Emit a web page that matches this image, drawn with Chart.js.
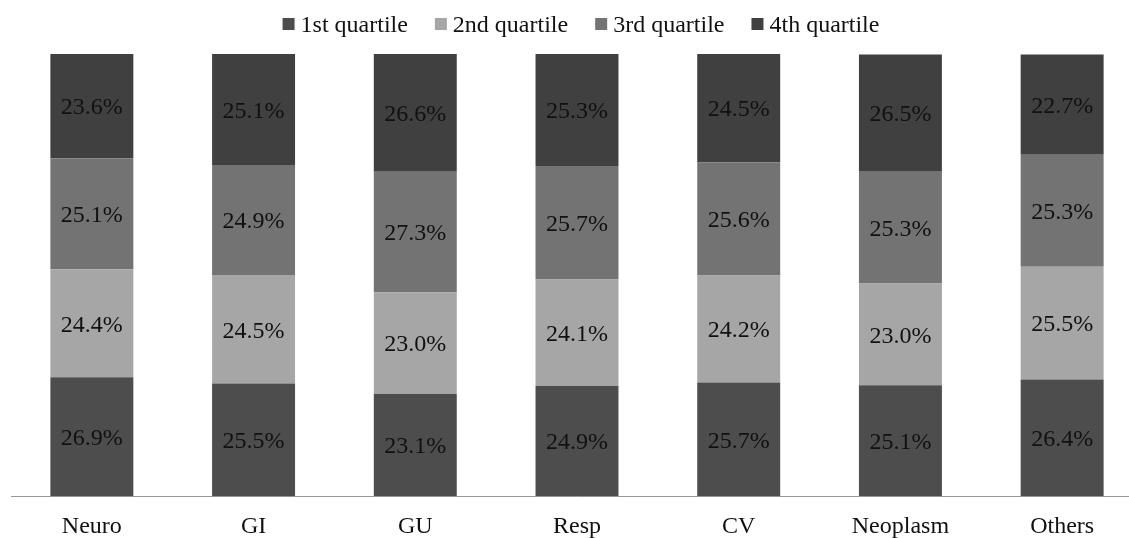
<!DOCTYPE html>
<html>
<head>
<meta charset="utf-8">
<script src="https://cdn.jsdelivr.net/npm/chart.js@4"></script>
<style>
html,body{margin:0;padding:0;background:#fff;overflow:hidden;}
#wrap{width:1145px;height:557px;}
</style>
</head>
<body>
<div id="wrap"><canvas id="c"></canvas></div>
<script>
const categories = ["Neuro","GI","GU","Resp","CV","Neoplasm","Others"];
const seriesNames = ["1st quartile","2nd quartile","3rd quartile","4th quartile"];
const q1 = [26.9,25.5,23.1,24.9,25.7,25.1,26.4];
const q2 = [24.4,24.5,23.0,24.1,24.2,23.0,25.5];
const q3 = [25.1,24.9,27.3,25.7,25.6,25.3,25.3];
const q4 = [23.6,25.1,26.6,25.3,24.5,26.5,22.7];
const colors = ["#4d4d4d","#a6a6a6","#737373","#404040"];

const FONT = '"Liberation Serif", "Times New Roman", serif';

const valueLabels = {
  id: 'valueLabels',
  afterDatasetsDraw(chart) {
    const ctx = chart.ctx;
    ctx.save();
    ctx.font = '24px ' + FONT;
    ctx.fillStyle = '#111';
    ctx.textAlign = 'center';
    ctx.textBaseline = 'middle';
    chart.data.datasets.forEach((ds, i) => {
      const meta = chart.getDatasetMeta(i);
      meta.data.forEach((bar, j) => {
        const y = (bar.y + bar.base) / 2;
        ctx.fillText(ds.data[j].toFixed(1) + '%', bar.x, y + 2);
      });
    });
    ctx.restore();
  }
};

const customLegend = {
  id: 'customLegend',
  afterDraw(chart) {
    const ctx = chart.ctx;
    ctx.save();
    ctx.font = '24px ' + FONT;
    const box = 12, gap = 6, itemGap = 27;
    const items = chart.data.datasets.map(ds => ({ text: ds.label, color: ds.backgroundColor, w: ctx.measureText(ds.label).width }));
    const total = items.reduce((s, it) => s + box + gap + it.w, 0) + itemGap * (items.length - 1);
    let x = 581 - total / 2;
    items.forEach(it => {
      ctx.fillStyle = it.color;
      ctx.fillRect(x, 18, box, box);
      ctx.fillStyle = '#111';
      ctx.textAlign = 'left';
      ctx.textBaseline = 'alphabetic';
      ctx.fillText(it.text, x + box + gap, 32);
      x += box + gap + it.w + itemGap;
    });
    ctx.restore();
  }
};

const data = {
  labels: categories,
  datasets: [q1,q2,q3,q4].map((arr, i) => ({
    label: seriesNames[i],
    data: arr,
    backgroundColor: colors[i],
    borderWidth: 0,
    barPercentage: 0.513,
    categoryPercentage: 1.0
  }))
};

new Chart(document.getElementById('c'), {
  type: 'bar',
  data,
  plugins: [valueLabels, customLegend],
  options: {
    responsive: true,
    maintainAspectRatio: false,
    animation: false,
    layout: { padding: { left: 11, right: 2, top: 54, bottom: 0 } },
    plugins: {
      legend: { display: false },
      tooltip: { enabled: false }
    },
    scales: {
      x: {
        stacked: true,
        grid: { display: false, drawTicks: false },
        border: { display: true, color: '#999', width: 1 },
        ticks: {
          color: '#111',
          padding: 16,
          font: { family: FONT, size: 24 }
        }
      },
      y: {
        stacked: true,
        display: false,
        min: 0,
        max: 100
      }
    }
  }
});
</script>
</body>
</html>
